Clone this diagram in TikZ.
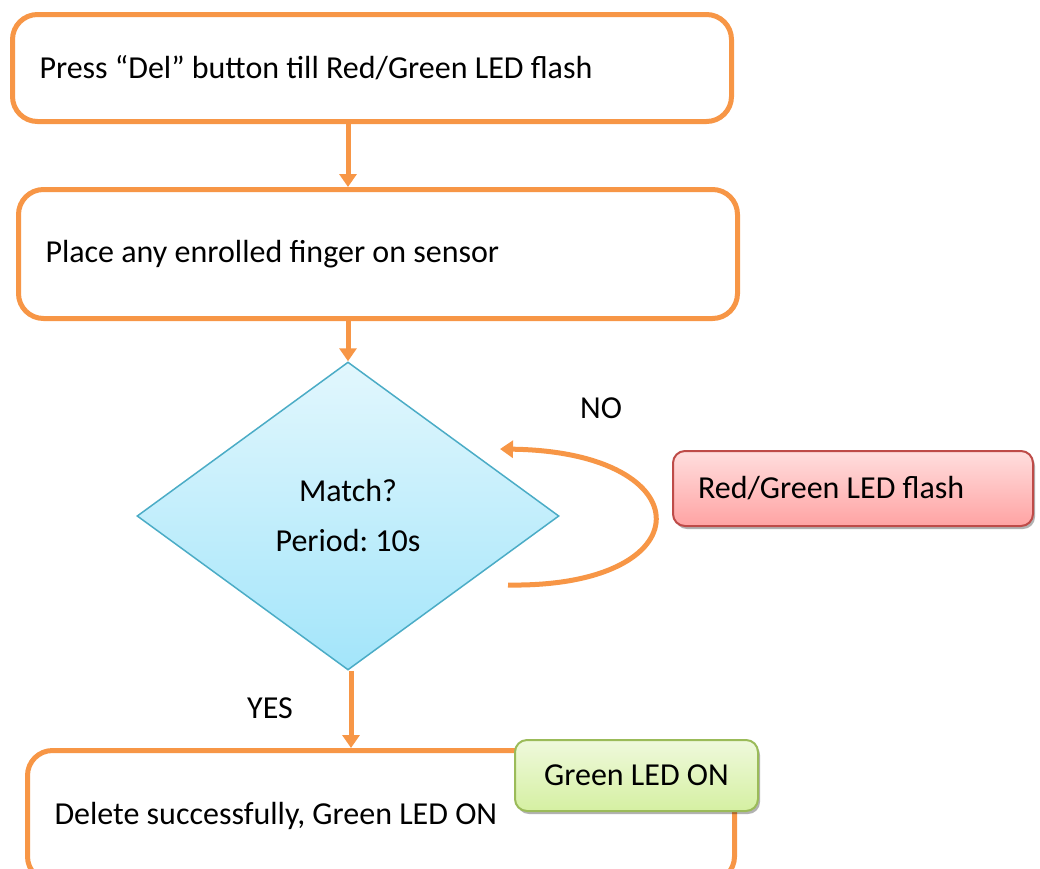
\documentclass[tikz,border=0pt]{standalone}
\usepackage{fontspec}
\setmainfont{Carlito}
\usetikzlibrary{shapes.geometric,arrows.meta,shadows,calc}
\definecolor{orng}{HTML}{F79646}
\definecolor{diaTop}{HTML}{E2F7FD}
\definecolor{diaBot}{HTML}{A3E5FA}
\definecolor{diaLine}{HTML}{4BACC6}
\definecolor{redTop}{HTML}{FFDEDE}
\definecolor{redBot}{HTML}{FFA3A3}
\definecolor{redLine}{HTML}{BE4B48}
\definecolor{grnTop}{HTML}{EFF9DC}
\definecolor{grnBot}{HTML}{D5F0A2}
\definecolor{grnLine}{HTML}{9BBB59}
\tikzset{
  txt/.style={font=\fontsize{32}{50}\selectfont\frenchspacing},
  natspace/.style={execute at begin node={\spaceskip=\fontdimen2\font\relax}},
  obox/.style={txt, natspace, draw=orng, line width=5pt, rounded corners=25pt, fill=white,
    align=left, inner xsep=27pt, inner ysep=0pt},
  decision/.style={txt, diamond, draw=diaLine, line width=1.5pt, top color=diaTop,
    bottom color=diaBot, align=center, inner sep=0pt},
  redbox/.style={txt, natspace, draw=redLine, line width=2pt, rounded corners=12pt,
    top color=redTop, bottom color=redBot, align=left, inner xsep=25pt, inner ysep=0pt,
    drop shadow={shadow xshift=2pt, shadow yshift=-3pt, opacity=0.3, fill=black}},
  grnbox/.style={txt, draw=grnLine, line width=2pt, rounded corners=12pt,
    top color=grnTop, bottom color=grnBot, align=center, inner sep=0pt,
    drop shadow={shadow xshift=2pt, shadow yshift=-3pt, opacity=0.3, fill=black}},
  arr/.style={draw=orng, line width=5pt, -{Triangle[width=17pt,length=13pt]}},
  lbl/.style={txt}
}
\begin{document}
\begin{tikzpicture}[x=1pt,y=-1pt]
\useasboundingbox (0,0) rectangle (1040,868);

\node[obox, text width=665pt, minimum height=107pt] (box1) at (372,68)
  {Press “Del” button till Red/Green LED flash};
\node[obox, text width=665pt, minimum height=129pt] (box2) at (378,254)
  {Place any enrolled finger on sensor};
\node[decision, minimum width=422pt, minimum height=308pt] (dec) at (348,516)
  {Match?\\Period: 10s};
\node[redbox, text width=310pt, minimum height=75pt] (red) at (853,488.5)
  {Red/Green LED flash};
\node[obox, text width=653pt, minimum height=131pt] (box4) at (381,816)
  {Delete successfully, Green LED ON};
\node[grnbox, minimum width=243pt, minimum height=71pt] (green) at (636.5,775.5)
  {Green LED ON};

\node[lbl] (no) at (601,408) {NO};
\node[lbl] (yes) at (270,708) {YES};

\draw[arr] (box1.south -| dec.north) -- (box2.north -| dec.north);
\draw[arr] (box2.south -| dec.north) -- (dec.north);
\draw[arr] ($(dec.south)+(3,0)$) -- ($(dec.south |- box4.north)+(3,0)$);

\coordinate (loopS) at (508,585);
\coordinate (loopE) at (500,449);
\draw[arr] (loopS) .. controls (705,588) and (705,452) .. (loopE);
\end{tikzpicture}
\end{document}
